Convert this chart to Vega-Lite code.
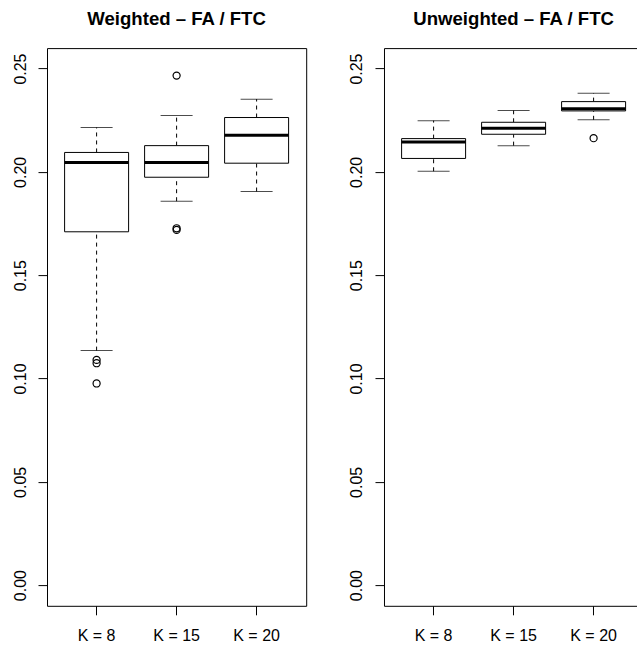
{
  "$schema": "https://vega.github.io/schema/vega-lite/v6.json",
  "padding": {"left": 11, "top": 9.1, "right": 0, "bottom": 0},
  "background": "white",
  "spacing": 77,
  "bounds": "flush",
  "config": {
    "view": {"stroke": "black", "strokeWidth": 1},
    "font": "Liberation Sans",
    "axis": {"grid": false, "domain": false, "tickColor": "black", "tickSize": 9, "labelColor": "black", "labelFont": "Liberation Sans", "labelFontSize": 16, "title": null},
    "title": {"font": "Liberation Sans", "fontSize": 18.6, "fontWeight": "bold", "color": "black", "anchor": "middle", "baseline": "alphabetic", "offset": 19.5}
  },
  "datasets": {
    "boxes": [
      {"panel": "Weighted", "K": "K = 8", "lower": 0.1135, "q1": 0.1710, "median": 0.2045, "q3": 0.2094, "upper": 0.2215},
      {"panel": "Weighted", "K": "K = 15", "lower": 0.1858, "q1": 0.1974, "median": 0.2045, "q3": 0.2127, "upper": 0.2273},
      {"panel": "Weighted", "K": "K = 20", "lower": 0.1905, "q1": 0.2042, "median": 0.2177, "q3": 0.2263, "upper": 0.2352},
      {"panel": "Unweighted", "K": "K = 8", "lower": 0.2003, "q1": 0.2065, "median": 0.2145, "q3": 0.2161, "upper": 0.2248},
      {"panel": "Unweighted", "K": "K = 15", "lower": 0.2127, "q1": 0.2182, "median": 0.2211, "q3": 0.2240, "upper": 0.2297},
      {"panel": "Unweighted", "K": "K = 20", "lower": 0.2252, "q1": 0.2295, "median": 0.2306, "q3": 0.2340, "upper": 0.2381}
    ],
    "outliers": [
      {"panel": "Weighted", "K": "K = 8", "value": 0.1090},
      {"panel": "Weighted", "K": "K = 8", "value": 0.1074},
      {"panel": "Weighted", "K": "K = 8", "value": 0.0976},
      {"panel": "Weighted", "K": "K = 15", "value": 0.2466},
      {"panel": "Weighted", "K": "K = 15", "value": 0.1727},
      {"panel": "Weighted", "K": "K = 15", "value": 0.1719},
      {"panel": "Unweighted", "K": "K = 20", "value": 0.2163}
    ]
  },
  "hconcat": [
    {
      "title": "Weighted – FA / FTC",
      "width": 259.2,
      "height": 557.7,
      "encoding": {
        "x": {"field": "K", "type": "ordinal", "sort": ["K = 8", "K = 15", "K = 20"], "scale": {"paddingInner": 0.2, "paddingOuter": 0.22}, "axis": {"labelAngle": 0, "labelPadding": 13, "labelBaseline": "top"}}
      },
      "layer": [
        {"data": {"name": "boxes"}, "transform": [{"filter": "datum.panel === 'Weighted'"}], "mark": {"type": "rule", "color": "black", "strokeWidth": 1, "strokeDash": [4, 4]},
         "encoding": {"y": {"field": "lower", "type": "quantitative", "scale": {"domain": [-0.01, 0.2599], "nice": false, "zero": false}, "axis": {"values": [0, 0.05, 0.1, 0.15, 0.2, 0.25], "format": ".2f", "labelAngle": -90, "labelAlign": "center", "labelBaseline": "bottom", "labelPadding": 10}}, "y2": {"field": "q1"}}},
        {"data": {"name": "boxes"}, "transform": [{"filter": "datum.panel === 'Weighted'"}], "mark": {"type": "rule", "color": "black", "strokeWidth": 1, "strokeDash": [4, 4]},
         "encoding": {"y": {"field": "q3", "type": "quantitative"}, "y2": {"field": "upper"}}},
        {"data": {"name": "boxes"}, "transform": [{"filter": "datum.panel === 'Weighted'"}], "mark": {"type": "bar", "fill": "white", "stroke": "black", "strokeWidth": 1},
         "encoding": {"y": {"field": "q1", "type": "quantitative"}, "y2": {"field": "q3"}}},
        {"data": {"name": "boxes"}, "transform": [{"filter": "datum.panel === 'Weighted'"}], "mark": {"type": "tick", "color": "black", "size": 32, "thickness": 1, "orient": "horizontal"},
         "encoding": {"y": {"field": "lower", "type": "quantitative"}}},
        {"data": {"name": "boxes"}, "transform": [{"filter": "datum.panel === 'Weighted'"}], "mark": {"type": "tick", "color": "black", "size": 32, "thickness": 1, "orient": "horizontal"},
         "encoding": {"y": {"field": "upper", "type": "quantitative"}}},
        {"data": {"name": "boxes"}, "transform": [{"filter": "datum.panel === 'Weighted'"}], "mark": {"type": "tick", "color": "black", "size": 64, "thickness": 3, "orient": "horizontal", "opacity": 1},
         "encoding": {"y": {"field": "median", "type": "quantitative"}}},
        {"data": {"name": "outliers"}, "transform": [{"filter": "datum.panel === 'Weighted'"}], "mark": {"type": "point", "shape": "circle", "filled": false, "stroke": "black", "strokeWidth": 1.2, "size": 50, "opacity": 1},
         "encoding": {"y": {"field": "value", "type": "quantitative"}}}
      ]
    },
    {
      "title": "Unweighted – FA / FTC",
      "width": 259.2,
      "height": 557.7,
      "encoding": {
        "x": {"field": "K", "type": "ordinal", "sort": ["K = 8", "K = 15", "K = 20"], "scale": {"paddingInner": 0.2, "paddingOuter": 0.22}, "axis": {"labelAngle": 0, "labelPadding": 13, "labelBaseline": "top"}}
      },
      "layer": [
        {"data": {"name": "boxes"}, "transform": [{"filter": "datum.panel === 'Unweighted'"}], "mark": {"type": "rule", "color": "black", "strokeWidth": 1, "strokeDash": [4, 4]},
         "encoding": {"y": {"field": "lower", "type": "quantitative", "scale": {"domain": [-0.01, 0.2599], "nice": false, "zero": false}, "axis": {"values": [0, 0.05, 0.1, 0.15, 0.2, 0.25], "format": ".2f", "labelAngle": -90, "labelAlign": "center", "labelBaseline": "bottom", "labelPadding": 10}}, "y2": {"field": "q1"}}},
        {"data": {"name": "boxes"}, "transform": [{"filter": "datum.panel === 'Unweighted'"}], "mark": {"type": "rule", "color": "black", "strokeWidth": 1, "strokeDash": [4, 4]},
         "encoding": {"y": {"field": "q3", "type": "quantitative"}, "y2": {"field": "upper"}}},
        {"data": {"name": "boxes"}, "transform": [{"filter": "datum.panel === 'Unweighted'"}], "mark": {"type": "bar", "fill": "white", "stroke": "black", "strokeWidth": 1},
         "encoding": {"y": {"field": "q1", "type": "quantitative"}, "y2": {"field": "q3"}}},
        {"data": {"name": "boxes"}, "transform": [{"filter": "datum.panel === 'Unweighted'"}], "mark": {"type": "tick", "color": "black", "size": 32, "thickness": 1, "orient": "horizontal"},
         "encoding": {"y": {"field": "lower", "type": "quantitative"}}},
        {"data": {"name": "boxes"}, "transform": [{"filter": "datum.panel === 'Unweighted'"}], "mark": {"type": "tick", "color": "black", "size": 32, "thickness": 1, "orient": "horizontal"},
         "encoding": {"y": {"field": "upper", "type": "quantitative"}}},
        {"data": {"name": "boxes"}, "transform": [{"filter": "datum.panel === 'Unweighted'"}], "mark": {"type": "tick", "color": "black", "size": 64, "thickness": 3, "orient": "horizontal", "opacity": 1},
         "encoding": {"y": {"field": "median", "type": "quantitative"}}},
        {"data": {"name": "outliers"}, "transform": [{"filter": "datum.panel === 'Unweighted'"}], "mark": {"type": "point", "shape": "circle", "filled": false, "stroke": "black", "strokeWidth": 1.2, "size": 50, "opacity": 1},
         "encoding": {"y": {"field": "value", "type": "quantitative"}}}
      ]
    }
  ]
}
